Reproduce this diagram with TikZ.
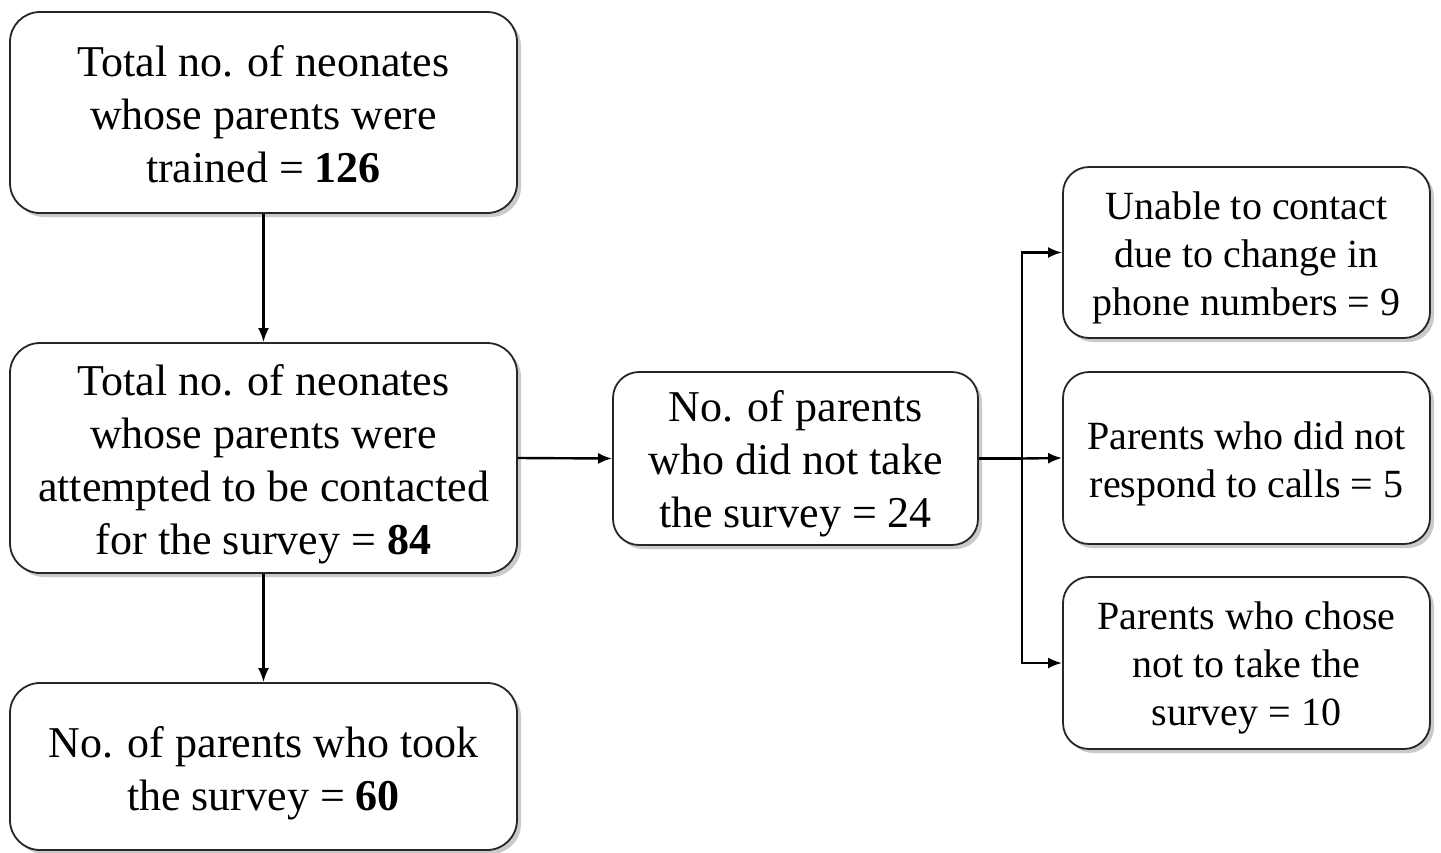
\documentclass[tikz,border=0pt]{standalone}
\usepackage{fontspec}
\setmainfont{Liberation Serif}
\usetikzlibrary{arrows.meta,shadows,positioning}
\newcommand{\lowtxt}[2]{\raisebox{-#1}[\height][\depth]{\begin{tabular}{@{}c@{}}#2\end{tabular}}}
\begin{document}
\begin{tikzpicture}[x=1pt,y=-1pt,
  box/.style={draw=black!85, line width=1.8pt, rounded corners=30pt, fill=white, align=center, inner sep=0pt,
    drop shadow={shadow xshift=4pt, shadow yshift=-4pt, opacity=0.35, fill=black!60}},
  bigtxt/.style={font=\fontsize{44}{53}\selectfont},
  smalltxt/.style={font=\fontsize{40}{48}\selectfont},
  conn/.style={line width=2.4pt, -{Latex[length=14pt,width=11pt]}},
  plain/.style={line width=2.4pt}]
\useasboundingbox (0,0) rectangle (1441,852);
\node[box,bigtxt,minimum width=507pt,minimum height=201pt] (b1) at (263.5,112.5)
  {\lowtxt{6pt}{Total no. of neonates\\whose parents were\\trained = \textbf{126}}};
\node[box,bigtxt,minimum width=507pt,minimum height=230pt] (b2) at (263.5,458)
  {\lowtxt{6pt}{Total no. of neonates\\whose parents were\\attempted to be contacted\\for the survey = \textbf{84}}};
\node[box,bigtxt,minimum width=507pt,minimum height=167pt] (b3) at (263.5,766.5)
  {\lowtxt{7pt}{No. of parents who took\\the survey = \textbf{60}}};
\node[box,bigtxt,rounded corners=26pt,minimum width=365pt,minimum height=173pt] (m) at (795.5,458.5)
  {\lowtxt{5pt}{No. of parents\\who did not take\\the survey = 24}};
\node[box,smalltxt,rounded corners=26pt,minimum width=367pt,minimum height=171pt] (r1) at (1246.5,252.5)
  {\lowtxt{5pt}{Unable to contact\\due to change in\\phone numbers = 9}};
\node[box,smalltxt,rounded corners=26pt,minimum width=367pt,minimum height=172pt] (r2) at (1246.5,458)
  {\lowtxt{6pt}{Parents who did not\\respond to calls = 5}};
\node[box,smalltxt,rounded corners=26pt,minimum width=367pt,minimum height=172pt] (r3) at (1246.5,663)
  {\lowtxt{5pt}{Parents who chose\\not to take the\\survey = 10}};
\coordinate (j) at (1022,458.5);
\draw[conn] (b1.south) -- (b2.north);
\draw[conn] (b2.south) -- (b3.north);
\draw[conn] (b2.east) -- (m.west);
\draw[plain] (m.east) -- (j);
\draw[conn] (j) -- (r2.west);
\draw[conn] (j) |- (r1.west);
\draw[conn] (j) |- (r3.west);
\end{tikzpicture}
\end{document}
